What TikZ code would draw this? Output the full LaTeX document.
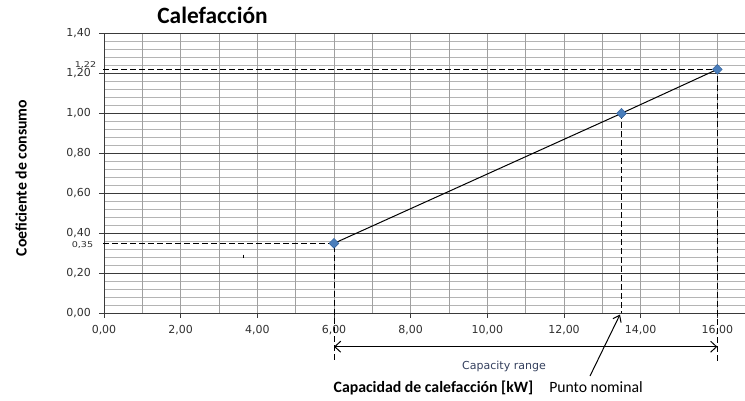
\documentclass[tikz,border=0pt]{standalone}
\usepackage{fontspec}
\setmainfont{Carlito}
\newfontfamily\tickfont{DejaVu Sans}
\usetikzlibrary{arrows.meta,shapes.geometric}
\definecolor{majgrid}{HTML}{3A3A3A}
\definecolor{mingrid}{HTML}{B4B4B4}
\definecolor{vgridc}{HTML}{A0A0A0}
\definecolor{ptblue}{HTML}{4A7EBB}
\definecolor{ptedge}{HTML}{2F5E9A}
\definecolor{ticktext}{HTML}{303030}
\definecolor{rangetext}{HTML}{34405E}
\tikzset{
  minline/.style={draw=mingrid, line width=1pt},
  vline/.style={draw=vgridc, line width=1pt},
  majline/.style={draw=majgrid, line width=1pt},
  axisline/.style={draw=majgrid, line width=1pt},
  ticklab/.style={font=\tickfont\fontsize{11}{12}\selectfont, text=ticktext, inner sep=0pt},
  smalllab/.style={font=\tickfont\fontsize{8}{9}\selectfont, text=ticktext, inner sep=0pt, xscale=1.2},
  datapt/.style={diamond, fill=ptblue, draw=ptedge, line width=0.4pt, minimum size=10pt, inner sep=0pt},
  dataline/.style={draw=black, line width=1pt},
  guide/.style={draw=black, line width=1pt, dash pattern=on 6pt off 3pt},
  rangearrow/.style={draw=black, line width=1pt, {Straight Barb[length=6pt,width=11pt]}-{Straight Barb[length=6pt,width=11pt]}},
  callout/.style={draw=black, line width=1pt, -{Straight Barb[length=6pt,width=9pt]}},
  titlefont/.style={font=\bfseries\fontsize{23.4}{26}\selectfont, inner sep=0pt},
  axisfont/.style={font=\bfseries\fontsize{15.8}{17}\selectfont, inner sep=0pt},
  plainfont/.style={font=\fontsize{15.7}{17}\selectfont, inner sep=0pt},
  rangefont/.style={font=\tickfont\fontsize{11}{12}\selectfont, text=rangetext, inner sep=0pt}
}
\begin{document}
\begin{tikzpicture}[x=1pt,y=-1pt]
\useasboundingbox (0,0) rectangle (745,400);
\fill[white] (0,0) rectangle (745,400);
% minor horizontal grid
\foreach \i in {1,...,34}{
  \pgfmathtruncatemacro\m{mod(\i,5)}
  \ifnum\m=0\relax\else
    \draw[minline] (104,{313.333-\i*8}) -- (745,{313.333-\i*8});
  \fi
}
% vertical grid
\foreach \j in {1,...,16}{
  \draw[vline] ({104+\j*38.333},33.333) -- ({104+\j*38.333},313.333);
}
% major horizontal grid
\foreach \k in {1,...,7}{
  \draw[majline] (104,{313.333-\k*40}) -- (745,{313.333-\k*40});
}
% axes
\draw[axisline] (104,33.333) -- (104,313.333) -- (745,313.333);
% y ticks and labels
\foreach \k/\lab in {0/{0,00},1/{0,20},2/{0,40},3/{0,60},4/{0,80},5/{1,00},6/{1,20},7/{1,40}}{
  \draw[axisline] (99,{313.333-\k*40}) -- (104,{313.333-\k*40});
  \node[ticklab, anchor=east] (yl\k) at (91,{313.333-\k*40}) {\lab};
}
% x ticks and labels
\foreach \k/\lab in {0/{0,00},1/{2,00},2/{4,00},3/{6,00},4/{8,00},5/{10,00},6/{12,00},7/{14,00},8/{16,00}}{
  \draw[axisline] ({104+\k*76.667},313.333) -- ({104+\k*76.667},318);
  \node[ticklab] (xl\k) at ({104+\k*76.667},330) {\lab};
}
% extra small labels
\node[smalllab] (l122) at (85.5,64.5) {1,22};
\node[smalllab] (l035) at (82.5,245) {0,35};
% data coordinates
\coordinate (c1) at (334,243.333);
\coordinate (c2) at (621.5,113.333);
\coordinate (c3) at (717.333,69.333);
\coordinate (a122) at (103,69.333);
\coordinate (a035) at (103,243.333);
\coordinate (b1) at (334,360);
\coordinate (b2) at (621.5,313.333);
\coordinate (b3) at (717.333,363);
% guide lines
\draw[guide] (a122) -- (c3) -- (b3);
\draw[guide] (a035) -- (c1) -- (b1);
\draw[guide] (c2) -- (b2);
% data line
\draw[dataline] (c1) -- (c2) -- (c3);
% data points
\node[datapt] (p1) at (c1) {};
\node[datapt] (p2) at (c2) {};
\node[datapt] (p3) at (c3) {};
% stray mark
\draw[black, line width=0.8pt] (243,254.5) -- (243,257.5);
% capacity range
\coordinate (r1) at (334,346.7);
\coordinate (r2) at (717.333,346.7);
\draw[rangearrow] (r1) -- (r2);
\node[rangefont, anchor=base] (rng) at (504,369.3) {Capacity range};
% callout
\coordinate (pn) at (590,376);
\coordinate (pt) at (620,314.5);
\draw[callout] (pn) -- (pt);
% texts
\node[titlefont, anchor=base] (title) at (212.5,23.3) {Calefacción};
\node[axisfont, anchor=base, rotate=90] (ylab) at (26.7,178) {Coeficiente de consumo};
\node[axisfont, anchor=base] (xlab) at (433.5,392.7) {Capacidad de calefacción [kW]};
\node[plainfont, anchor=base] (nom) at (596,392.7) {Punto nominal};
\end{tikzpicture}
\end{document}
